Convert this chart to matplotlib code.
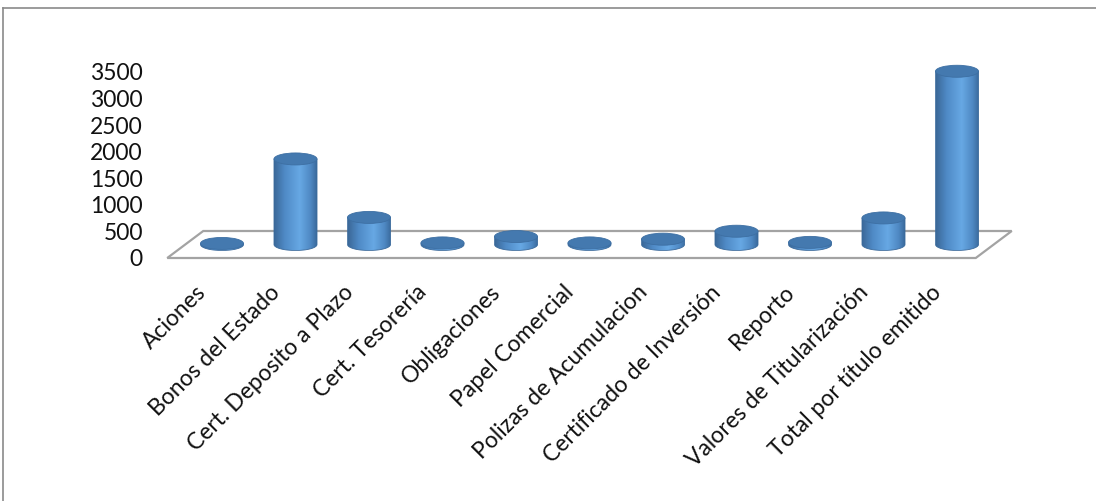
import numpy as np
import matplotlib
matplotlib.use("Agg")
import matplotlib.pyplot as plt
from matplotlib.patches import Ellipse, Polygon, PathPatch
from matplotlib.path import Path
from matplotlib.transforms import Affine2D
from matplotlib.colors import LinearSegmentedColormap
from matplotlib.lines import Line2D

categories = [
    "Aciones", "Bonos del Estado", "Cert. Deposito a Plazo", "Cert. Tesorería",
    "Obligaciones", "Papel Comercial", "Polizas de Acumulacion",
    "Certificado de Inversión", "Reporto", "Valores de Titularización",
    "Total por título emitido",
]
values = [20, 1610, 510, 30, 150, 30, 100, 250, 40, 500, 3260]
yticks = [0, 500, 1000, 1500, 2000, 2500, 3000, 3500]

W, H = 1096, 501
fig = plt.figure(figsize=(W / 100, H / 100), dpi=100)
fig.patch.set_facecolor("white")

# chart-area border (top and left visible)
fig.add_artist(Line2D([3 / W, 1.0], [1 - 8 / H, 1 - 8 / H], color="#8a8a8a", lw=1.2))
fig.add_artist(Line2D([3 / W, 3 / W], [0, 1 - 8 / H], color="#8a8a8a", lw=1.2))

# axes extended to the right (x up to 11) so the last cylinder is not clipped
step = 73.5
ax = fig.add_axes([167.25 / W, 243 / H, (11.5 * step) / W, 186 / H])
XL = (-0.5, 11.0)
ax.set_xlim(*XL)
ax.set_ylim(0, 3500)
for s in ax.spines.values():
    s.set_visible(False)
ax.patch.set_alpha(0)

# pixel -> data factors
kx = 1 / step
ky = 3500 / 186.0

# floor
depth_x, depth_y = 36, 27
floor = Polygon([(-0.5, 0), (10.5, 0), (10.5 + depth_x * kx, depth_y * ky),
                 (-0.5 + depth_x * kx, depth_y * ky)], closed=True,
                facecolor="white", edgecolor="#a3a3a3", lw=1.6, clip_on=False, zorder=1)
ax.add_patch(floor)

# bars as cylinders at mid-depth
T = ax.transData + Affine2D().translate(depth_x / 2, depth_y / 2)
cmap = LinearSegmentedColormap.from_list(
    "cyl", [(0.0, "#3b6898"), (0.25, "#4f8ac6"), (0.6, "#67a8e4"), (0.85, "#4f89c4"), (1.0, "#3a6a9c")])
grad = np.linspace(0, 1, 256).reshape(1, -1)

w = 21.5 * kx
ry = 6.0 * ky
th = np.linspace(np.pi, 2 * np.pi, 60)
for i, v in enumerate(values):
    arc = np.column_stack([i + w * np.cos(th), ry * np.sin(th)])
    verts = np.vstack([[[i - w, v]], arc, [[i + w, v]], [[i - w, v]]])
    codes = [Path.MOVETO] + [Path.LINETO] * (len(verts) - 2) + [Path.CLOSEPOLY]
    body = PathPatch(Path(verts, codes), facecolor="none", edgecolor="#3a6a9c",
                     lw=0.6, transform=T, clip_on=False, zorder=3)
    ax.add_patch(body)
    im = ax.imshow(grad, cmap=cmap, aspect="auto", extent=(i - w, i + w, -ry, v),
                   transform=T, zorder=2, interpolation="bilinear")
    im.set_clip_path(body)
    top = Ellipse((i, v), 2 * w, 2 * ry, facecolor="#4479af", edgecolor="#3d6fa3",
                  lw=0.6, transform=T, clip_on=False, zorder=4)
    ax.add_patch(top)

ax.set_xlim(*XL)
ax.set_ylim(0, 3500)
ax.set_aspect("auto")

ax.set_yticks(yticks)
ax.set_yticklabels([str(t) for t in yticks], fontsize=16.5, family="Lato", color="#111111")
ax.tick_params(axis="y", length=0, pad=17.5)
ax.set_xticks([])

for i, c in enumerate(categories):
    ax.annotate(c, xy=(i, 0), xycoords="data", xytext=(-1, -31), textcoords="offset pixels",
                rotation=45, rotation_mode="anchor", ha="right", va="center",
                fontsize=16.5, family="Lato", color="#111111", annotation_clip=False)

fig.savefig("out.png", dpi=100, facecolor="white")
